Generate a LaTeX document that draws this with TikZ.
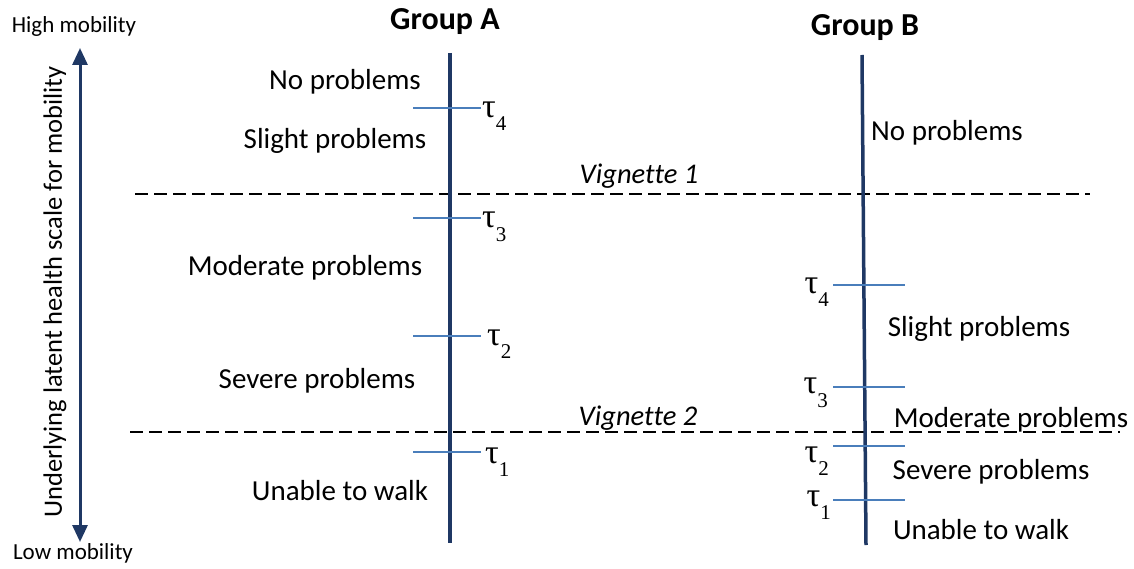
\documentclass[tikz,border=0pt]{standalone}
\usepackage{fontspec}
\setmainfont{Carlito}[Ligatures=NoCommon]
\newfontfamily\taufont{Liberation Serif}
\usetikzlibrary{arrows.meta}
\definecolor{navy}{RGB}{31,56,100}
\definecolor{tickblue}{RGB}{74,126,187}
\newcommand{\tlab}[1]{{\taufont\fontsize{34}{34}\selectfont τ\raisebox{-0.40em}{\fontsize{21}{21}\selectfont #1}}}
\tikzset{
  lbl/.style={inner sep=0pt, font=\fontsize{29}{34}\selectfont},
  grp/.style={inner sep=0pt, font=\fontsize{32}{36}\selectfont\bfseries},
  small/.style={inner sep=0pt, font=\fontsize{23}{27}\selectfont},
  vig/.style={inner sep=0pt, font=\fontsize{28.5}{33}\selectfont\itshape},
  axisline/.style={draw=navy, line width=3.5pt},
  tickline/.style={draw=tickblue, line width=2pt},
  vigline/.style={draw=black, line width=1.5pt, dash pattern=on 13pt off 6pt},
  taunode/.style={inner sep=0pt},
  bigtip/.tip={Triangle[length=17pt,width=15pt]}
}
\begin{document}
\begin{tikzpicture}[x=1pt,y=-1pt]
\useasboundingbox (0,0) rectangle (1134,569);
% left scale
\node[small] (high) at (74,26) {High mobility};
\node[small] (low) at (73,553) {Low mobility};
\coordinate (atop) at (80,48);
\coordinate (abot) at (80,542);
\draw[draw=navy, fill=navy, line width=3pt, bigtip-bigtip] (atop) -- (abot);
\node[inner sep=0pt, rotate=90, font=\fontsize{26.5}{30}\selectfont] (scale) at (55,292) {Underlying latent health scale for mobility};
% groups
\node[grp] (ga) at (445,22) {Group A};
\node[grp] (gb) at (865,28) {Group B};
\coordinate (atopA) at (450,53);
\coordinate (abotA) at (450,543);
\coordinate (atopB) at (862,55);
\coordinate (abotB) at (866,545);
% vignette lines
\coordinate (v1l) at (135,194); \coordinate (v1r) at (1090,194);
\coordinate (v2l) at (130,432); \coordinate (v2r) at (1120,432);
\draw[vigline] (v1l) -- (v1r);
\draw[vigline] (v2l) -- (v2r);
\node[vig] (vig1) at (639,176) {Vignette 1};
\node[vig] (vig2) at (638,418) {Vignette 2};
% Group A
\draw[axisline] (atopA) -- (abotA);
\foreach \n/\y in {4/108,3/218,2/336,1/452}{
  \coordinate (A\n l) at (413,\y); \coordinate (A\n r) at (481,\y);
  \draw[tickline] (A\n l) -- (A\n r);
}
\node[taunode, anchor=west] (tA4) at (482,116) {\tlab{4}};
\node[taunode, anchor=west] (tA3) at (482,227) {\tlab{3}};
\node[taunode, anchor=west] (tA2) at (487,344) {\tlab{2}};
\node[taunode, anchor=west] (tA1) at (485,462) {\tlab{1}};
\node[lbl] (anop) at (345,82) {No problems};
\node[lbl] (asli) at (335,141) {Slight problems};
\node[lbl] (amod) at (305,268) {Moderate problems};
\node[lbl] (asev) at (317,381) {Severe problems};
\node[lbl] (auna) at (340,491) {Unable to walk};
% Group B
\draw[axisline] (atopB) -- (abotB);
\foreach \n/\y in {4/285,3/387,2/446,1/500}{
  \coordinate (B\n l) at (833,\y); \coordinate (B\n r) at (905,\y);
  \draw[tickline] (B\n l) -- (B\n r);
}
\node[taunode, anchor=east] (tB4) at (829,292) {\tlab{4}};
\node[taunode, anchor=east] (tB3) at (828,393) {\tlab{3}};
\node[taunode, anchor=east] (tB2) at (829,461) {\tlab{2}};
\node[taunode, anchor=east] (tB1) at (831,505) {\tlab{1}};
\node[lbl] (bnop) at (947,133) {No problems};
\node[lbl] (bsli) at (979,329) {Slight problems};
\node[lbl] (bmod) at (1011,420) {Moderate problems};
\node[lbl] (bsev) at (991,472) {Severe problems};
\node[lbl] (buna) at (981,530) {Unable to walk};
\end{tikzpicture}
\end{document}
